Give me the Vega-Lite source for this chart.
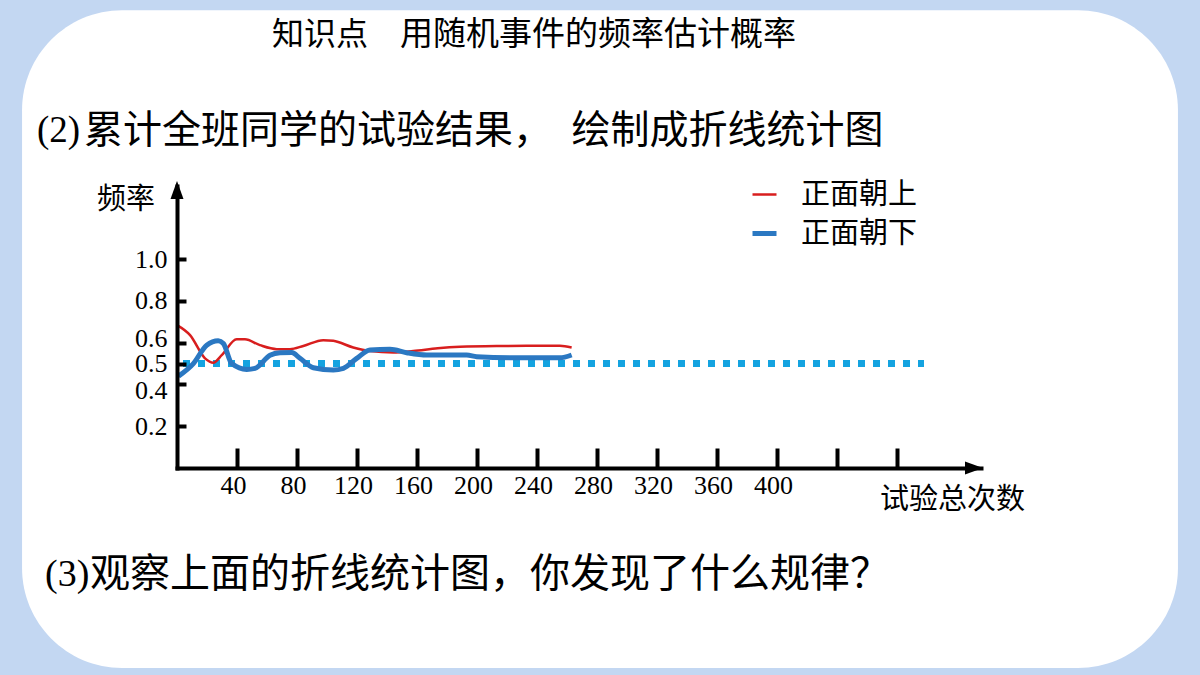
{
  "$schema": "https://vega.github.io/schema/vega-lite/v6.json",
  "width": 804,
  "height": 282,
  "autosize": {"type": "none"},
  "padding": {"left": 177, "top": 186, "right": 219, "bottom": 207},
  "background": "#c3d7f2",
  "config": {"view": {"stroke": null}},
  "datasets": {
    "freq": [
      {"n": 0, "f": 0.684, "s": "正面朝上"},
      {"n": 8.7, "f": 0.636, "s": "正面朝上"},
      {"n": 18.7, "f": 0.525, "s": "正面朝上"},
      {"n": 24.2, "f": 0.504, "s": "正面朝上"},
      {"n": 29.8, "f": 0.54, "s": "正面朝上"},
      {"n": 39.8, "f": 0.616, "s": "正面朝上"},
      {"n": 45.3, "f": 0.616, "s": "正面朝上"},
      {"n": 55.3, "f": 0.588, "s": "正面朝上"},
      {"n": 66.5, "f": 0.569, "s": "正面朝上"},
      {"n": 75.3, "f": 0.569, "s": "正面朝上"},
      {"n": 84.2, "f": 0.584, "s": "正面朝上"},
      {"n": 97.5, "f": 0.612, "s": "正面朝上"},
      {"n": 104.2, "f": 0.609, "s": "正面朝上"},
      {"n": 117.5, "f": 0.577, "s": "正面朝上"},
      {"n": 128.7, "f": 0.56, "s": "正面朝上"},
      {"n": 144.2, "f": 0.553, "s": "正面朝上"},
      {"n": 157.5, "f": 0.56, "s": "正面朝上"},
      {"n": 173.8, "f": 0.573, "s": "正面朝上"},
      {"n": 188.7, "f": 0.58, "s": "正面朝上"},
      {"n": 217.5, "f": 0.584, "s": "正面朝上"},
      {"n": 233.1, "f": 0.585, "s": "正面朝上"},
      {"n": 255.3, "f": 0.585, "s": "正面朝上"},
      {"n": 263.1, "f": 0.577, "s": "正面朝上"},
      {"n": 1, "f": 0.44, "s": "正面朝下"},
      {"n": 10.9, "f": 0.5, "s": "正面朝下"},
      {"n": 19.8, "f": 0.588, "s": "正面朝下"},
      {"n": 27.5, "f": 0.609, "s": "正面朝下"},
      {"n": 30.9, "f": 0.596, "s": "正面朝下"},
      {"n": 36.5, "f": 0.5, "s": "正面朝下"},
      {"n": 46.5, "f": 0.472, "s": "正面朝下"},
      {"n": 52, "f": 0.477, "s": "正面朝下"},
      {"n": 62, "f": 0.54, "s": "正面朝下"},
      {"n": 68.7, "f": 0.552, "s": "正面朝下"},
      {"n": 76.5, "f": 0.553, "s": "正面朝下"},
      {"n": 82, "f": 0.525, "s": "正面朝下"},
      {"n": 90.9, "f": 0.48, "s": "正面朝下"},
      {"n": 104.2, "f": 0.469, "s": "正面朝下"},
      {"n": 110.9, "f": 0.477, "s": "正面朝下"},
      {"n": 119.8, "f": 0.525, "s": "正面朝下"},
      {"n": 128.7, "f": 0.565, "s": "正面朝下"},
      {"n": 142, "f": 0.568, "s": "正面朝下"},
      {"n": 153.1, "f": 0.552, "s": "正面朝下"},
      {"n": 166.5, "f": 0.541, "s": "正面朝下"},
      {"n": 193.1, "f": 0.541, "s": "正面朝下"},
      {"n": 199.8, "f": 0.533, "s": "正面朝下"},
      {"n": 222, "f": 0.528, "s": "正面朝下"},
      {"n": 255.3, "f": 0.528, "s": "正面朝下"},
      {"n": 263.1, "f": 0.541, "s": "正面朝下"}
    ],
    "half": [
      {"n": 4, "f": 0.5},
      {"n": 498, "f": 0.5}
    ],
    "one": [{}]
  },
  "layer": [
    {
      "data": {"name": "one"},
      "mark": {"type": "rect", "fill": "white", "cornerRadius": 100},
      "encoding": {
        "x": {"datum": -103.3, "type": "quantitative", "scale": {"domain": [0, 536], "nice": false, "zero": false},
          "axis": {
            "orient": "bottom", "zindex": 2, "title": null, "grid": false,
            "values": [40, 80, 120, 160, 200, 240, 280, 320, 360, 400, 440, 480],
            "labelExpr": "datum.value > 400 ? '' : datum.label",
            "domainColor": "black", "domainWidth": 4, "domainCap": "square",
            "tickColor": "black", "tickWidth": 4, "tickSize": -20,
            "labelFont": "Liberation Serif", "labelFontSize": 26, "labelColor": "black",
            "labelPadding": 24, "labelFlush": false, "labelOverlap": false,
            "labelOffset": -4
          }},
        "x2": {"datum": 667.3},
        "y": {"datum": 2.191, "type": "quantitative", "scale": {"domain": [0, 1.35], "nice": false, "zero": false},
          "axis": {
            "orient": "left", "zindex": 2, "title": null, "grid": false,
            "values": [0.2, 0.4, 0.5, 0.6, 0.8, 1.0], "format": ".1f",
            "domainColor": "black", "domainWidth": 4, "domainCap": "square",
            "tickColor": "black", "tickWidth": 4, "tickSize": -9,
            "labelFont": "Liberation Serif", "labelFontSize": 26, "labelColor": "black",
            "labelPadding": 19, "labelOverlap": false, "labelFlush": false,
            "labelOffset": {"condition": [{"test": "datum.value === 0.4", "value": 6}, {"test": "datum.value === 0.6", "value": -4}], "value": 0}
          }},
        "y2": {"datum": -0.957}
      }
    },
    {
      "data": {"name": "half"},
      "mark": {"type": "line", "color": "#14a3e0", "strokeWidth": 7, "strokeDash": [7, 8]},
      "encoding": {
        "x": {"field": "n", "type": "quantitative"},
        "y": {"field": "f", "type": "quantitative"}
      }
    },
    {
      "data": {"name": "freq"},
      "mark": {"type": "line", "interpolate": "monotone"},
      "encoding": {
        "x": {"field": "n", "type": "quantitative"},
        "y": {"field": "f", "type": "quantitative"},
        "color": {"field": "s", "type": "nominal",
          "scale": {"domain": ["正面朝上", "正面朝下"], "range": ["#d81e1e", "#2b78c2"]},
          "legend": {"orient": "none", "legendX": 573, "legendY": -6, "title": null,
            "symbolType": "stroke", "symbolSize": 576, "labelFont": "Noto Sans CJK SC",
            "labelFontSize": 29, "labelColor": "black", "labelOffset": 22, "rowPadding": 9, "zindex": 3}},
        "strokeWidth": {"field": "s", "type": "nominal",
          "scale": {"domain": ["正面朝上", "正面朝下"], "range": [2.5, 5]},
          "legend": {"orient": "none", "legendX": 573, "legendY": -6, "title": null,
            "symbolType": "stroke", "symbolSize": 576, "labelFont": "Noto Sans CJK SC",
            "labelFontSize": 29, "labelColor": "black", "labelOffset": 22, "rowPadding": 9, "zindex": 3}}
      }
    },
    {
      "data": {"name": "one"},
      "mark": {"type": "point", "filled": true, "color": "black", "opacity": 1, "size": 400,
        "shape": "M0,-0.5L0.65,1.3L-0.65,1.3Z"},
      "encoding": {"x": {"datum": 0}, "y": {"datum": 1.35}}
    },
    {
      "data": {"name": "one"},
      "mark": {"type": "point", "filled": true, "color": "black", "opacity": 1, "size": 400,
        "shape": "M0.2,0L-1.6,0.65L-1.6,-0.65Z"},
      "encoding": {"x": {"datum": 536}, "y": {"datum": 0}}
    },
    {
      "data": {"name": "one"},
      "mark": {"type": "text", "text": "知识点", "font": "Noto Sans CJK SC", "fontSize": 32, "align": "left", "baseline": "middle", "color": "black"},
      "encoding": {"x": {"datum": 63.3}, "y": {"datum": 2.072}}
    },
    {
      "data": {"name": "one"},
      "mark": {"type": "text", "text": "用随机事件的频率估计概率", "font": "Noto Sans CJK SC", "fontSize": 33, "align": "left", "baseline": "middle", "color": "black"},
      "encoding": {"x": {"datum": 148.7}, "y": {"datum": 2.072}}
    },
    {
      "data": {"name": "one"},
      "mark": {"type": "text", "text": "(2)", "font": "Liberation Serif", "fontSize": 37, "align": "left", "baseline": "middle", "color": "black"},
      "encoding": {"x": {"datum": -93.3}, "y": {"datum": 1.612}}
    },
    {
      "data": {"name": "one"},
      "mark": {"type": "text", "text": "累计全班同学的试验结果，\u2002绘制成折线统计图", "font": "Noto Sans CJK SC", "fontSize": 39, "align": "left", "baseline": "middle", "color": "black"},
      "encoding": {"x": {"datum": -62}, "y": {"datum": 1.612}}
    },
    {
      "data": {"name": "one"},
      "mark": {"type": "text", "text": "(3)", "font": "Liberation Serif", "fontSize": 38, "align": "left", "baseline": "middle", "color": "black"},
      "encoding": {"x": {"datum": -88}, "y": {"datum": -0.512}}
    },
    {
      "data": {"name": "one"},
      "mark": {"type": "text", "text": "观察上面的折线统计图，你发现了什么规律？", "font": "Noto Sans CJK SC", "fontSize": 40, "align": "left", "baseline": "middle", "color": "black"},
      "encoding": {"x": {"datum": -58}, "y": {"datum": -0.512}}
    },
    {
      "data": {"name": "one"},
      "mark": {"type": "text", "text": "频率", "font": "Noto Sans CJK SC", "fontSize": 29, "align": "left", "baseline": "middle", "color": "black"},
      "encoding": {"x": {"datum": -53.3}, "y": {"datum": 1.282}}
    },
    {
      "data": {"name": "one"},
      "mark": {"type": "text", "text": "试验总次数", "font": "Noto Sans CJK SC", "fontSize": 29, "align": "left", "baseline": "middle", "color": "black"},
      "encoding": {"x": {"datum": 468.7}, "y": {"datum": -0.153}}
    }
  ]
}
